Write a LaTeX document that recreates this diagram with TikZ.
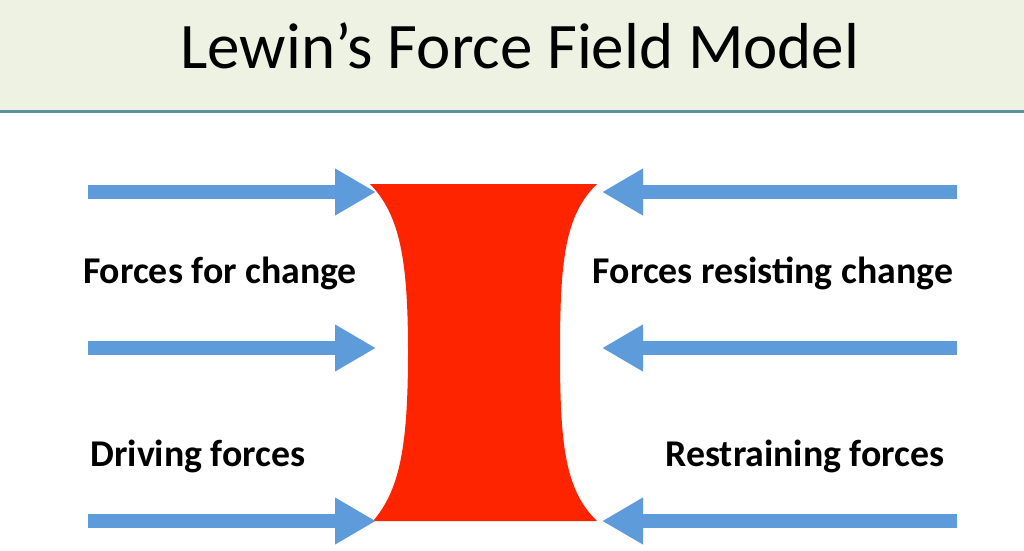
\documentclass[tikz,border=0pt]{standalone}
\usepackage{fontspec}
\setmainfont{Carlito}
\usetikzlibrary{arrows.meta,positioning}
\definecolor{lwheader}{HTML}{EEF2E3}
\definecolor{lwrule}{HTML}{5E8FA0}
\definecolor{lwblue}{HTML}{5E9BDA}
\definecolor{lwred}{HTML}{FF2400}
\tikzset{
  lwforce/.style={line width=14pt,draw=lwblue,
    -{Triangle[length=41pt,width=44pt]}},
  lwlabel/.style={font=\fontsize{37.8}{40}\selectfont\bfseries,anchor=base,inner sep=0pt},
  lwtitle/.style={font=\fontsize{65}{70}\selectfont,anchor=base,inner sep=0pt},
  lwbarrier/.style={fill=lwred,draw=none}
}

\begin{document}
\begin{tikzpicture}[x=1pt,y=-1pt]
  \useasboundingbox (0,0) rectangle (1024,550);
  % header band
  \fill[lwheader] (0,0) rectangle (1024,110);
  \draw[lwrule,line width=3pt] (0,111) -- (1024,111);
  \node[lwtitle] (title) at (520,68) {Lewin’s Force Field Model};

  % the barrier between the two sides
  \path[lwbarrier] (370,184) -- (597,184)
    .. controls (565,215) and (560,260) .. (560,352)
    .. controls (560,445) and (565,490) .. (597,521)
    -- (373,521)
    .. controls (400,490) and (408,445) .. (408,352)
    .. controls (408,260) and (400,215) .. (370,184) -- cycle;

  % driving side
  \foreach \r/\y in {1/192,2/348,3/521}{
    \coordinate (dl\r) at (88,\y);
    \coordinate (dr\r) at (376,\y);
    \draw[lwforce] (dl\r) -- (dr\r);
  }
  % restraining side
  \foreach \r/\y in {1/192,2/348,3/521}{
    \coordinate (rl\r) at (957,\y);
    \coordinate (rr\r) at (602,\y);
    \draw[lwforce] (rl\r) -- (rr\r);
  }

  \node[lwlabel] (forchange) at (220,283) {Forces for change};
  \node[lwlabel] (resisting) at (773,283) {Forces resisting change};
  \node[lwlabel] (driving) at (198,466) {Driving forces};
  \node[lwlabel] (restraining) at (805,466) {Restraining forces};
\end{tikzpicture}
\end{document}
